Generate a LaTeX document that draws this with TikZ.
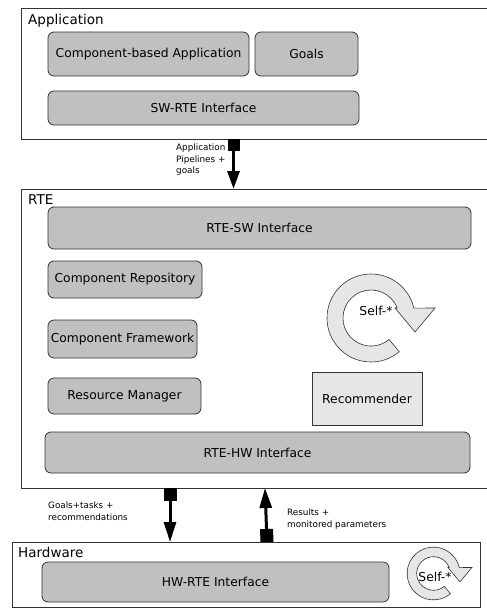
\documentclass[tikz,border=0pt]{standalone}
\usepackage{fontspec}
\setmainfont{DejaVu Sans}
\usetikzlibrary{arrows.meta}
\definecolor{boxgray}{HTML}{C0C0C0}
\definecolor{lightg}{HTML}{E6E6E6}
\definecolor{edge}{HTML}{333333}
\begin{document}
\begin{tikzpicture}[x=1pt,y=-1pt,
 container/.style={draw=edge, line width=0.9pt, fill=white, inner sep=0pt, outer sep=0pt},
 gbox/.style={draw=edge, line width=0.8pt, fill=boxgray, rounded corners=6pt, inner sep=0pt, font=\fontsize{12.3}{14}\selectfont},
 lbox/.style={draw=edge, line width=0.8pt, fill=lightg, inner sep=0pt, font=\fontsize{12.3}{14}\selectfont},
 ttl/.style={anchor=base west, inner sep=0pt, font=\fontsize{13.5}{16}\selectfont},
 note/.style={anchor=north west, align=left, inner sep=0pt, font=\fontsize{8.8}{11.5}\selectfont},
 flow/.style={line width=3pt, {Square[length=12pt,width=12pt]}-{Triangle[length=18pt,width=12pt]}},
 flowb/.style={line width=3pt, {Square[length=13pt,width=13pt]}-{Triangle[length=20pt,width=12pt]}},
 ringst/.style={draw=edge, line width=0.6pt, fill=lightg},
 selftxt/.style={inner sep=0pt, font=\fontsize{12.3}{14}\selectfont}
]
\useasboundingbox (0,0) rectangle (487,608);

% containers
\node[container, minimum width=471pt, minimum height=131pt] (app) at (256.5,73.5) {};
\node[container, minimum width=471pt, minimum height=299pt] (rte) at (256.5,338.5) {};
\node[container, minimum width=468pt, minimum height=65pt] (hw) at (246,574.5) {};

\node[ttl] (appl) at (28,24) {Application};
\node[ttl] (rtel) at (28,204) {RTE};
\node[ttl] (hwl) at (18,557) {Hardware};

% application layer
\node[gbox, minimum width=201pt, minimum height=44pt] (comp) at (148.5,54) {Component-based Application};
\node[gbox, minimum width=103pt, minimum height=44pt] (goals) at (306.5,54) {Goals};
\node[gbox, minimum width=311pt, minimum height=34pt] (swrte) at (203.5,108) {SW-RTE Interface};

% RTE layer
\node[gbox, minimum width=423pt, minimum height=42pt] (rtesw) at (259.5,228) {RTE-SW Interface};
\node[gbox, minimum width=154pt, minimum height=37pt] (repo) at (125,279.5) {Component Repository};
\node[gbox, minimum width=149pt, minimum height=38pt] (frame) at (122.5,339) {Component Framework};
\node[gbox, minimum width=153pt, minimum height=36pt] (resman) at (124.5,396) {Resource Manager};
\node[lbox, minimum width=110pt, minimum height=53pt] (recom) at (367,398.5) {Recommender};
\node[gbox, minimum width=425pt, minimum height=41pt] (rtehw) at (257.5,452.5) {RTE-HW Interface};

% hardware layer
\node[gbox, minimum width=347pt, minimum height=40pt] (hwrte) at (215.5,582) {HW-RTE Interface};

% self-* loops
\begin{scope}[shift={(371,318)}]
\draw[ringst] (50:44) arc[start angle=50,end angle=347,radius=44] -- (64,-10) -- (44,14) -- (24,-10) -- (339:28) arc[start angle=339,end angle=50,radius=28] -- cycle;
\end{scope}
\node[selftxt] (self1) at (376,311) {Self-*};
\begin{scope}[shift={(433.5,573.5)}, scale=0.6]
\draw[ringst] (50:44) arc[start angle=50,end angle=347,radius=44] -- (64,-10) -- (44,14) -- (24,-10) -- (339:28) arc[start angle=339,end angle=50,radius=28] -- cycle;
\end{scope}
\node[selftxt] (self2) at (435,577) {Self-*};

% connectors
\coordinate (ax1) at (233.5,0);
\coordinate (ax2) at (170,0);
\coordinate (ax3b) at (267,0);
\coordinate (ax3t) at (265,0);
\draw[flow] (app.south -| ax1) -- (rte.north -| ax1);
\draw[flowb] (rte.south -| ax2) -- (hw.north -| ax2);
\draw[flowb] (hw.north -| ax3b) -- (rte.south -| ax3t);

\node[note] (n1) at (176,144) {Application\\Pipelines +\\goals};
\node[note] (n2) at (48,502) {Goals+tasks +\\recommendations};
\node[note] (n3) at (287,509) {Results +\\monitored parameters};
\end{tikzpicture}
\end{document}
